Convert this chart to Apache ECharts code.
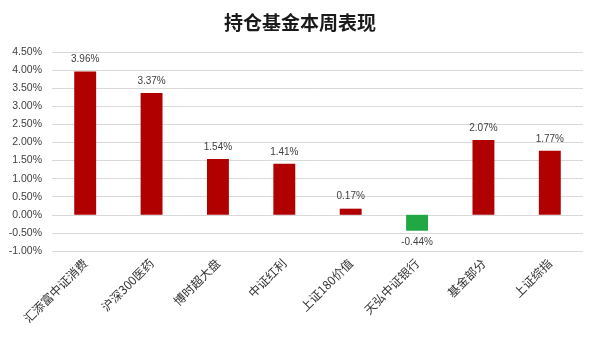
<!DOCTYPE html>
<html><head><meta charset="utf-8">
<script src="https://cdn.jsdelivr.net/npm/echarts@6/dist/echarts.min.js"></script>
<style>html,body{margin:0;padding:0;background:#fff}#c{width:600px;height:338px}</style>
</head><body><div id="c"></div>
<script>
const categories = ['汇添富中证消费','沪深300医药','博时超大盘','中证红利','上证180价值','天弘中证银行','基金部分','上证综指'];
const values = [3.96, 3.37, 1.54, 1.41, 0.17, -0.44, 2.07, 1.77];
const titleText = '持仓基金本周表现';

const chart = echarts.init(document.getElementById('c'));
chart.setOption({
  animation: false,
  backgroundColor: '#fff',
  title: {text: titleText, left: 'center', top: 8,
    textStyle: {fontFamily: 'Noto Sans CJK SC', fontWeight: 'bold', fontSize: 19, color: '#1a1a1a'}},
  grid: {left: 52, right: 17, top: 52, bottom: 87, containLabel: false},
  xAxis: {type: 'category', data: categories,
    axisLine: {show: false, onZero: false}, axisTick: {show: false},
    axisLabel: {rotate: 45, interval: 0, margin: 10, fontSize: 12, color: '#333',
      fontFamily: 'Noto Sans CJK SC'}},
  yAxis: {type: 'value', min: -1, max: 4.5, interval: 0.5,
    axisLine: {show: false}, axisTick: {show: false},
    splitLine: {lineStyle: {color: '#d9d9d9', width: 1}},
    axisLabel: {formatter: v => v.toFixed(2) + '%', fontSize: 10.5, color: '#404040', margin: 10,
      fontFamily: 'Liberation Sans'}},
  series: [{type: 'bar', barWidth: '33%',
    data: values.map(v => ({value: v, itemStyle: {color: v >= 0 ? '#B00000' : '#1FA843'},
      label: {position: v >= 0 ? 'top' : 'bottom'}})),
    label: {show: true, formatter: p => p.value.toFixed(2) + '%', fontSize: 10, color: '#404040',
      distance: 7, fontFamily: 'Liberation Sans'}}]
});
</script></body></html>
